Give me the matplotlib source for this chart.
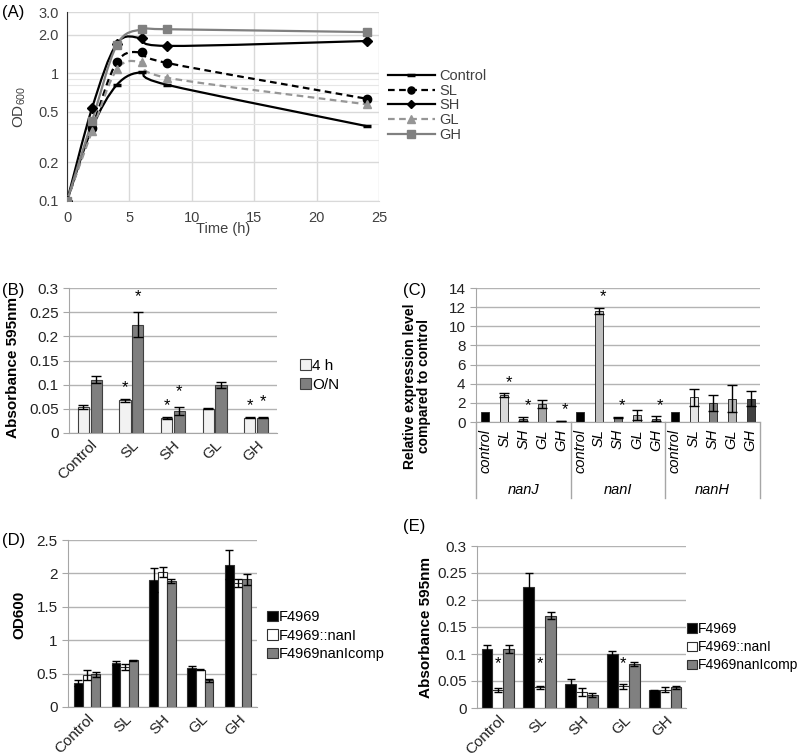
import numpy as np
import matplotlib
matplotlib.use('Agg')
import matplotlib.pyplot as plt
from matplotlib.path import Path
from matplotlib.patches import PathPatch, Patch
from matplotlib.lines import Line2D

plt.rcParams['font.family'] = ['Liberation Sans', 'DejaVu Sans']
plt.rcParams['mathtext.fontset'] = 'custom'
plt.rcParams['mathtext.rm'] = 'Liberation Sans'
plt.rcParams['mathtext.default'] = 'regular'

# ---- (A) growth curves ----
time_h = [0, 2, 4, 6, 8, 24]
od_control = [0.1, 0.37, 0.81, 1.01, 0.81, 0.385]
od_sl = [0.1, 0.37, 1.22, 1.45, 1.20, 0.63]
od_sh = [0.1, 0.53, 1.70, 1.87, 1.63, 1.78]
od_gl = [0.1, 0.35, 1.07, 1.21, 0.92, 0.57]
od_gh = [0.1, 0.42, 1.66, 2.20, 2.20, 2.09]

# ---- (B) biofilm 4 h / overnight ----
conditions = ['Control', 'SL', 'SH', 'GL', 'GH']
b_4h = [0.054, 0.068, 0.032, 0.050, 0.032]
b_4h_err = [0.004, 0.003, 0.002, 0.001, 0.001]
b_on = [0.110, 0.224, 0.045, 0.100, 0.032]
b_on_err = [0.007, 0.026, 0.008, 0.006, 0.001]
b_star_4h = [False, True, True, False, True]
b_star_on = [False, True, True, False, True]

# ---- (C) relative expression ----
genes = ['nanJ', 'nanI', 'nanH']
c_cond = ['control', 'SL', 'SH', 'GL', 'GH']
c_nanJ = [1.0, 2.8, 0.35, 1.9, 0.12]
c_nanJ_err = [0.0, 0.2, 0.2, 0.4, 0.03]
c_nanI = [1.0, 11.6, 0.5, 0.75, 0.35]
c_nanI_err = [0.0, 0.35, 0.05, 0.5, 0.25]
c_nanH = [1.0, 2.6, 1.95, 2.45, 2.45]
c_nanH_err = [0.0, 0.9, 0.85, 1.45, 0.75]
c_star = [[False, True, True, False, True],
          [False, True, True, False, True],
          [False, False, False, False, False]]

# ---- (D) OD600 of strains ----
strains = ['F4969', 'F4969::nanI', 'F4969nanIcomp']
d_wt = [0.36, 0.66, 1.90, 0.58, 2.13]
d_wt_err = [0.05, 0.03, 0.18, 0.03, 0.22]
d_mut = [0.48, 0.60, 2.02, 0.56, 1.86]
d_mut_err = [0.07, 0.04, 0.08, 0.01, 0.06]
d_comp = [0.49, 0.70, 1.88, 0.40, 1.91]
d_comp_err = [0.04, 0.01, 0.03, 0.02, 0.08]

# ---- (E) biofilm of strains ----
e_wt = [0.110, 0.224, 0.045, 0.100, 0.033]
e_wt_err = [0.007, 0.026, 0.008, 0.006, 0.001]
e_mut = [0.033, 0.038, 0.030, 0.040, 0.034]
e_mut_err = [0.004, 0.003, 0.007, 0.004, 0.005]
e_comp = [0.109, 0.171, 0.024, 0.082, 0.038]
e_comp_err = [0.008, 0.006, 0.004, 0.004, 0.002]
e_star_mut = [True, True, False, True, False]

W, H = 800, 756
TXT = '#404040'
GRID = '#b3b3b3'
AXC = '#a6a6a6'


def px_axes(fig, left, top, right, bottom):
    return fig.add_axes([left / W, 1 - bottom / H, (right - left) / W, (bottom - top) / H])


def style_bar_axes(ax, ymax, step):
    ax.set_ylim(0, ymax)
    ax.set_yticks(np.arange(0, ymax + step / 2, step))
    ax.yaxis.grid(True, color=GRID, lw=1)
    ax.set_axisbelow(True)
    for s in ['top', 'right']:
        ax.spines[s].set_visible(False)
    for s in ['left', 'bottom']:
        ax.spines[s].set_color(AXC)
    ax.tick_params(axis='y', length=4, color=AXC, labelsize=11, labelcolor='#222222')
    ax.tick_params(axis='x', length=0, labelsize=10, labelcolor='#222222')


def smooth_path(ax, xs, ys, **kw):
    # Excel-like smoothed line, built as Bezier segments in axes coordinates
    x0, x1 = ax.get_xlim()
    l0, l1 = np.log10(ax.get_ylim())
    p = np.column_stack([(np.array(xs) - x0) / (x1 - x0),
                         (np.log10(ys) - l0) / (l1 - l0)])
    n = len(p)
    verts = [p[0]]
    codes = [Path.MOVETO]
    for i in range(n - 1):
        pm = p[i - 1] if i > 0 else p[i]
        pp = p[i + 2] if i + 2 < n else p[i + 1]
        c1 = p[i] + (p[i + 1] - pm) / 6
        c2 = p[i + 1] - (pp - p[i]) / 6
        verts += [c1, c2, p[i + 1]]
        codes += [Path.CURVE4] * 3
    patch = PathPatch(Path(verts, codes), fill=False, transform=ax.transAxes, **kw)
    ax.add_patch(patch)


def panel_a(fig):
    ax = px_axes(fig, 67, 12, 379, 201)
    ax.set_yscale('log')
    ax.set_xlim(0, 25)
    ax.set_ylim(0.1, 3.0)
    ax.set_yticks([0.1, 0.2, 0.5, 1, 2, 3])
    ax.set_yticklabels(['0.1', '0.2', '0.5', '1', '2.0', '3.0'])
    ax.yaxis.set_minor_locator(matplotlib.ticker.FixedLocator([0.3, 0.4, 0.6, 0.7, 0.8, 0.9]))
    ax.yaxis.set_minor_formatter(matplotlib.ticker.NullFormatter())
    ax.set_xticks([0, 5, 10, 15, 20, 25])
    ax.grid(True, which='major', color='#d9d9d9', lw=1)
    ax.yaxis.grid(True, which='minor', color='#e6e6e6', lw=0.8)
    ax.tick_params(which='both', length=0, labelsize=10.5, labelcolor=TXT, pad=6)
    ax.tick_params(axis='x', pad=7)
    for s in ['top', 'right']:
        ax.spines[s].set_visible(False)
    ax.spines['bottom'].set_color('#d9d9d9')
    ax.spines['left'].set_color('#303030')

    series = [
        ('Control', od_control, '#000000', '-', '_', dict(ms=6, mew=2.5)),
        ('SL', od_sl, '#000000', (0, (3, 2)), 'o', dict(ms=6)),
        ('SH', od_sh, '#000000', '-', 'D', dict(ms=5)),
        ('GL', od_gl, '#969696', (0, (3, 2)), '^', dict(ms=6)),
        ('GH', od_gh, '#808080', '-', 's', dict(ms=6)),
    ]
    handles = []
    for name, vals, col, ls, mk, mkw in series:
        smooth_path(ax, time_h, vals, edgecolor=col, lw=1.6, linestyle=ls, zorder=3)
        ax.plot(time_h, vals, ls='none', marker=mk, color=col, mec=col, zorder=4, **mkw)
        lk = dict(mkw)
        lk['ms'] = mkw['ms'] * 0.85
        handles.append(Line2D([], [], color=col, ls=ls, lw=1.6, marker=mk, mec=col, **lk))
    leg = fig.legend(handles, [s[0] for s in series], loc='upper left',
                     bbox_to_anchor=(388 / W, 1 - 69 / H), frameon=False,
                     fontsize=10.5, handlelength=3.2, labelspacing=0.05,
                     handletextpad=0.3, borderaxespad=0, borderpad=0)
    for t in leg.get_texts():
        t.set_color(TXT)
    ax.set_ylabel('OD$_{600}$', fontsize=11, color=TXT)
    ax.yaxis.set_label_coords(-0.125, 0.5)
    ax.set_xlabel('Time (h)', fontsize=10.5, color=TXT)
    ax.xaxis.set_label_coords(0.5, -0.11)


def panel_b(fig):
    ax = px_axes(fig, 69, 288, 277, 433)
    x = np.arange(len(conditions))
    ax.bar(x - 0.155, b_4h, 0.27, color='#f2f2f2', edgecolor='#404040', lw=0.8, zorder=2)
    ax.bar(x + 0.155, b_on, 0.27, color='#7f7f7f', edgecolor='#404040', lw=0.8, zorder=2)
    ax.errorbar(x - 0.155, b_4h, yerr=b_4h_err, fmt='none', ecolor='black', capsize=3.5, lw=1, zorder=3)
    ax.errorbar(x + 0.155, b_on, yerr=b_on_err, fmt='none', ecolor='black', capsize=3.5, lw=1, zorder=3)
    for i in range(len(conditions)):
        if b_star_4h[i]:
            ax.annotate('*', (x[i] - 0.155, b_4h[i] + b_4h_err[i]), xytext=(0, 8),
                        textcoords='offset points', ha='center', va='center', fontsize=12)
        if b_star_on[i]:
            ax.annotate('*', (x[i] + 0.155, b_on[i] + b_on_err[i]), xytext=(0, 11),
                        textcoords='offset points', ha='center', va='center', fontsize=12)
    ax.set_xlim(-0.5, 4.5)
    style_bar_axes(ax, 0.3, 0.05)
    ax.set_yticklabels(['0', '0.05', '0.1', '0.15', '0.2', '0.25', '0.3'])
    ax.set_xticks(x)
    ax.set_xticklabels(conditions, rotation=45, ha='right', rotation_mode='anchor', fontsize=11)
    ax.set_ylabel('Absorbance 595nm', fontsize=11, fontweight='bold')
    ax.yaxis.set_label_coords(-0.235, 0.45)
    ax.legend(handles=[Patch(fc='#f2f2f2', ec='#404040', lw=0.8), Patch(fc='#7f7f7f', ec='#404040', lw=0.8)],
              labels=['4 h', 'O/N'], loc='upper left', bbox_to_anchor=(1.11, 0.51),
              frameon=False, fontsize=11, handlelength=0.7, handleheight=0.7,
              handletextpad=0.1, labelspacing=0.3, borderaxespad=0, borderpad=0)


def panel_c(fig):
    ax = px_axes(fig, 476, 288, 760, 422)
    vals = c_nanJ + c_nanI + c_nanH
    errs = c_nanJ_err + c_nanI_err + c_nanH_err
    stars = c_star[0] + c_star[1] + c_star[2]
    colors = ['#000000', '#d9d9d9', '#8c8c8c', '#a6a6a6', '#595959',
              '#000000', '#bfbfbf', '#808080', '#b3b3b3', '#8c8c8c',
              '#000000', '#e6e6e6', '#808080', '#b3b3b3', '#404040']
    x = np.arange(len(vals))
    ax.bar(x, vals, 0.42, color=colors, edgecolor='#303030', lw=0.7, zorder=2)
    has_err = np.array(errs) > 0
    ax.errorbar(x[has_err], np.array(vals)[has_err], yerr=np.array(errs)[has_err],
                fmt='none', ecolor='black', capsize=3.5, lw=1, zorder=3)
    for i in range(len(vals)):
        if stars[i]:
            ax.annotate('*', (x[i], vals[i] + errs[i]), xytext=(3, 8),
                        textcoords='offset points', ha='center', va='center', fontsize=12)
    ax.set_xlim(-0.5, 14.5)
    style_bar_axes(ax, 14, 2)
    ax.set_xticks([])
    depth = -(498 - 422) / 134
    trans = ax.get_xaxis_transform()
    for xb in [-0.5, 4.5, 9.5, 14.5]:
        ax.plot([xb, xb], [0, depth], color=AXC, lw=1, transform=trans, clip_on=False)
    for i in range(len(vals)):
        ax.text(x[i], -7 / 134, c_cond[i % 5], rotation=90, ha='center', va='top',
                style='italic', fontsize=10.5, transform=trans)
    for g, name in enumerate(genes):
        ax.text(g * 5 + 2, -(490 - 422) / 134, name, ha='center', va='center',
                style='italic', fontsize=10.5, transform=trans)
    ax.set_ylabel('Relative expression level\ncompared to control', fontsize=10,
                  fontweight='bold', linespacing=1.0)
    ax.yaxis.set_label_coords(-0.16, 0.27)


def panel_strains(fig, box, a, ae, b, be, c, ce, ymax, step, ticklabels, ylabel,
                  lab_xy, leg_xy, width, leg_size):
    ax = px_axes(fig, *box)
    x = np.arange(len(conditions))
    cols = ['#000000', '#ffffff', '#808080']
    for k, (v, e) in enumerate([(a, ae), (b, be), (c, ce)]):
        xx = x + (k - 1) * width
        ax.bar(xx, v, width, color=cols[k], edgecolor='#303030', lw=0.8, zorder=2)
        ax.errorbar(xx, v, yerr=e, fmt='none', ecolor='black', capsize=3, lw=1, zorder=3)
    ax.set_xlim(-0.5, 4.5)
    style_bar_axes(ax, ymax, step)
    ax.set_yticklabels(ticklabels)
    ax.set_xticks(x)
    ax.set_xticklabels(conditions, rotation=45, ha='right', rotation_mode='anchor', fontsize=11)
    ax.set_ylabel(ylabel, fontsize=11, fontweight='bold')
    ax.yaxis.set_label_coords(*lab_xy)
    ax.legend(handles=[Patch(fc=c_, ec='#303030', lw=0.8) for c_ in cols], labels=strains,
              loc='upper left', bbox_to_anchor=leg_xy, frameon=False, fontsize=leg_size,
              handlelength=0.7, handleheight=0.7, handletextpad=0.1, labelspacing=0.3,
              borderaxespad=0, borderpad=0)
    return ax, x


def main():
    fig = plt.figure(figsize=(W / 100, H / 100), dpi=100)
    panel_a(fig)
    panel_b(fig)
    panel_c(fig)
    panel_strains(fig, (68, 540, 257, 707), d_wt, d_wt_err, d_mut, d_mut_err, d_comp, d_comp_err,
                  2.5, 0.5, ['0', '0.5', '1', '1.5', '2', '2.5'], 'OD600',
                  (-0.22, 0.55), (1.055, 0.58), 0.23, 10.5)
    ax, x = panel_strains(fig, (477, 546, 686, 708), e_wt, e_wt_err, e_mut, e_mut_err, e_comp, e_comp_err,
                          0.3, 0.05, ['0', '0.05', '0.1', '0.15', '0.2', '0.25', '0.3'],
                          'Absorbance 595nm', (-0.21, 0.5), (1.005, 0.53), 0.26, 10)
    for i in range(len(conditions)):
        if e_star_mut[i]:
            ax.text(x[i], 0.083, '*', ha='center', va='center', fontsize=12)
    for lab, (px, py) in zip(['(A)', '(B)', '(C)', '(D)', '(E)'],
                             [(2, 12), (2, 290), (403, 290), (2, 540), (403, 526)]):
        fig.text(px / W, 1 - py / H, lab, fontsize=12, va='center', ha='left')
    fig.savefig('out.png', dpi=100, facecolor='white')


if __name__ == "__main__":
    main()
